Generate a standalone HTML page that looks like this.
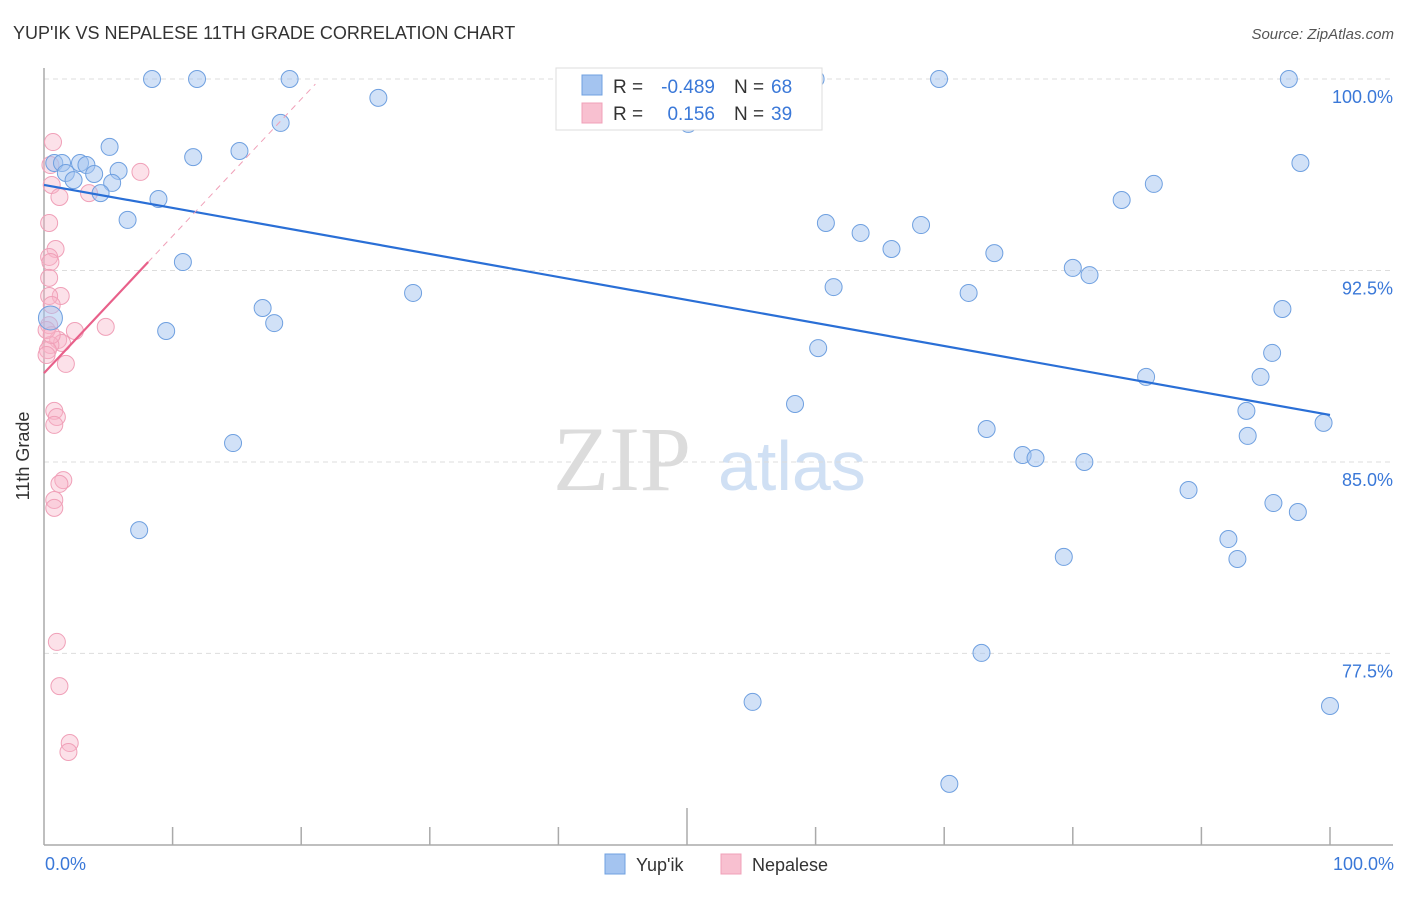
<!DOCTYPE html>
<html><head><meta charset="utf-8"><style>
body{margin:0;background:#fff;font-family:"Liberation Sans",sans-serif;}
</style></head><body>
<svg width="1406" height="892" xmlns="http://www.w3.org/2000/svg" id="chart">
<text x="13" y="39" font-size="18" fill="#333">YUP'IK VS NEPALESE 11TH GRADE CORRELATION CHART</text>
<text x="1394" y="39" font-size="15" fill="#555" text-anchor="end" font-style="italic">Source: ZipAtlas.com</text>
<text x="553" y="490" font-size="92" fill="#dcdcdc" font-family="Liberation Serif,serif">ZIP</text>
<text x="718" y="490" font-size="70" fill="#d0e0f4">atlas</text>
<g id="grid"></g><g id="axes"></g><g id="pts"></g><g id="trend"></g>
<text x="29" y="456" font-size="18" fill="#333" transform="rotate(-90 29 456)" text-anchor="middle">11th Grade</text>
<text x="45" y="870" font-size="18" fill="#3a78d8">0.0%</text>
<text x="1394" y="870" font-size="18" fill="#3a78d8" text-anchor="end">100.0%</text>
<g>
<rect x="556" y="68" width="266" height="62" fill="#fff" stroke="#ddd"/>
<rect x="582" y="75" width="20" height="20" fill="#a4c4f0" stroke="#6fa0e0"/>
<rect x="582" y="103" width="20" height="20" fill="#f8c0d0" stroke="#f0a0b8"/>
<text x="613" y="93" font-size="19" fill="#333">R =</text>
<text x="715" y="93" font-size="19" fill="#3a78d8" text-anchor="end">-0.489</text>
<text x="734" y="93" font-size="19" fill="#333">N =</text>
<text x="771" y="93" font-size="19" fill="#3a78d8">68</text>
<text x="613" y="120" font-size="19" fill="#333">R =</text>
<text x="715" y="120" font-size="19" fill="#3a78d8" text-anchor="end">0.156</text>
<text x="734" y="120" font-size="19" fill="#333">N =</text>
<text x="771" y="120" font-size="19" fill="#3a78d8">39</text>
</g>
<g>
<rect x="605" y="854" width="20" height="20" fill="#a4c4f0" stroke="#6fa0e0"/>
<text x="636" y="871" font-size="18" fill="#333">Yup'ik</text>
<rect x="721" y="854" width="20" height="20" fill="#f8c0d0" stroke="#f0a0b8"/>
<text x="752" y="871" font-size="18" fill="#333">Nepalese</text>
</g>
</svg>
<script>
const yTicks=[100,92.5,85,77.5];
const yTickLabels=["100.0%","92.5%","85.0%","77.5%"];
const blueX=[8.4,11.9,19.1,26.0,41.5,60.0,69.6,96.8,50.1,18.4,5.1,15.2,11.6,0.8,1.4,2.8,3.3,5.8,1.7,3.9,2.3,5.3,4.4,8.9,97.7,86.3,83.8,6.5,60.8,68.2,63.5,65.9,73.9,10.8,80.0,81.3,61.4,71.9,28.7,17.0,96.3,17.9,9.5,60.2,95.5,85.7,94.6,58.4,93.5,14.7,73.3,93.6,99.5,76.1,77.1,80.9,89.0,95.6,97.5,7.4,92.1,92.8,79.3,72.9,55.1,100,70.4,0.5];
const blueY=[100,100,100,99.26,100,100,100,100,98.24,98.28,97.34,97.18,96.94,96.71,96.71,96.71,96.63,96.40,96.32,96.28,96.04,95.93,95.53,95.30,96.71,95.89,95.26,94.48,94.36,94.28,93.97,93.34,93.18,92.83,92.60,92.32,91.85,91.62,91.62,91.03,90.99,90.44,90.13,89.46,89.27,88.33,88.33,87.27,87.00,85.74,86.29,86.02,86.53,85.27,85.15,85.00,83.90,83.39,83.04,82.33,81.98,81.20,81.28,77.52,75.60,75.44,72.39,90.64];
const pinkX=[0.7,0.5,0.6,7.5,3.5,1.2,0.4,0.9,0.4,0.5,0.4,1.3,0.4,0.6,0.4,4.8,2.4,1.1,1.4,0.5,0.3,1.7,0.8,1.0,0.8,1.5,1.2,0.8,0.8,1.0,1.2,2.0,1.9,0.2,0.6,0.2];
const pinkY=[97.53,96.63,95.85,96.36,95.53,95.38,94.36,93.34,93.03,92.83,92.21,91.50,91.50,91.15,90.36,90.29,90.13,89.78,89.66,89.58,89.38,88.84,87.00,86.76,86.45,84.29,84.14,83.51,83.20,77.95,76.22,73.99,73.64,90.17,89.97,89.19];
const blueTrend=[[0,95.85],[100,86.84]];
const pinkTrend=[[0,88.48],[8.1,92.83]];
const pinkDash=[[8.1,92.83],[21.1,99.8]];
const NS="http://www.w3.org/2000/svg";
const X=v=>44+v*12.86, Y=v=>79+(100-v)*25.53;
function mk(tag,attrs,parent){const e=document.createElementNS(NS,tag);for(const k in attrs)e.setAttribute(k,attrs[k]);document.getElementById(parent).appendChild(e);return e;}
yTicks.forEach((t,i)=>{
 const l=mk('line',{x1:44,x2:1393,y1:Y(t),y2:Y(t),stroke:'#ddd','stroke-dasharray':'5,4'},'grid');
 
 
 const tx=mk('text',{x:1393,y:Y(t)+24,'font-size':18,fill:'#3a78d8','text-anchor':'end'},'grid');
 tx.textContent=yTickLabels[i];
 
 
});
const ax=mk('line',{x1:44,x2:44,y1:68,y2:845,stroke:'#aaa','stroke-width':1.5},'axes');


const bx=mk('line',{x1:44,x2:1393,y1:845,y2:845,stroke:'#aaa','stroke-width':1.5},'axes');


for(let i=1;i<=10;i++){
 const tk=mk('line',{x1:X(i*10),x2:X(i*10),y1:i==5?808:827,y2:845,stroke:'#aaa','stroke-width':1.5},'axes');
 
 
}
pinkX.forEach((x,i)=>{
 const c=mk('circle',{cx:X(x),cy:Y(pinkY[i]),r:8.5,fill:'rgba(248,180,200,0.4)',stroke:'#f0a0b8','stroke-width':1},'pts');
 
 
});
blueX.forEach((x,i)=>{
 const c=mk('circle',{cx:X(x),cy:Y(blueY[i]),r:i==blueX.length-1?12:8.5,fill:'rgba(164,196,240,0.5)',stroke:'#6fa0e0','stroke-width':1},'pts');
 
 
});
const bt=mk('line',{x1:X(blueTrend[0][0]),y1:Y(blueTrend[0][1]),x2:X(blueTrend[1][0]),y2:Y(blueTrend[1][1]),stroke:'#2a6fd6','stroke-width':2.2},'trend');


const pt=mk('line',{x1:X(pinkTrend[0][0]),y1:Y(pinkTrend[0][1]),x2:X(pinkTrend[1][0]),y2:Y(pinkTrend[1][1]),stroke:'#e8608a','stroke-width':2.2},'trend');


const pd=mk('line',{x1:X(pinkDash[0][0]),y1:Y(pinkDash[0][1]),x2:X(pinkDash[1][0]),y2:Y(pinkDash[1][1]),stroke:'#f0a0b8','stroke-width':1,'stroke-dasharray':'6,5'},'trend');


</script>
</body></html>
